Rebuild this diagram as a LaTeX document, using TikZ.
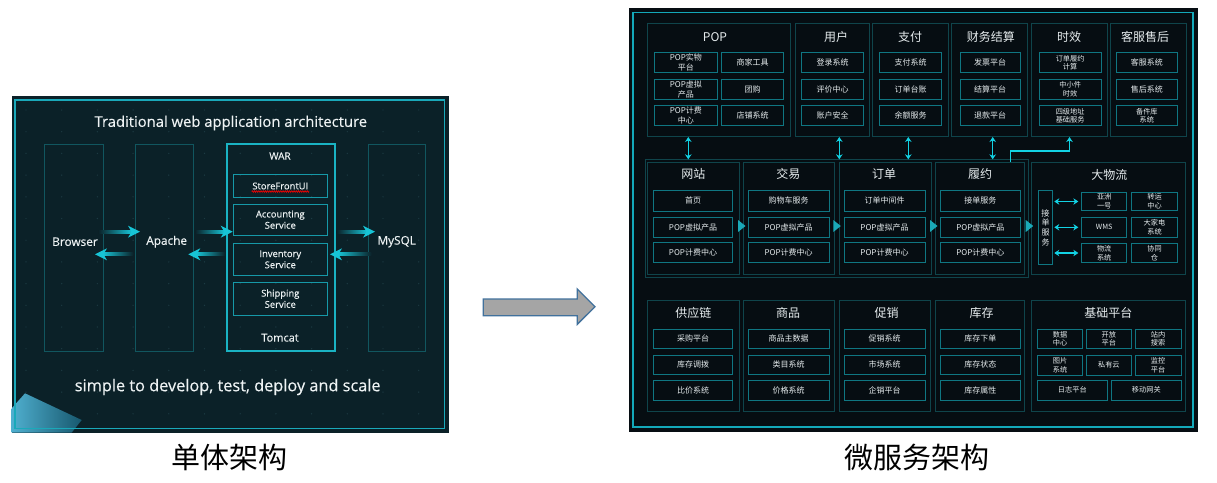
\documentclass[tikz,border=0pt]{standalone}
\usepackage{fontspec}
\setmainfont{Open Sans}[FakeBold=0.35]
\newfontfamily\cjk{Noto Sans CJK SC}
\usetikzlibrary{calc,arrows.meta,decorations.pathmorphing}
\definecolor{lbg}{HTML}{0B2128}
\definecolor{ldot}{HTML}{1C3A42}
\definecolor{lframe}{HTML}{1AA9BA}
\definecolor{lcol}{HTML}{11565F}
\definecolor{lwar}{HTML}{1AB3C3}
\definecolor{lsvc}{HTML}{1699A8}
\definecolor{ltxt}{HTML}{EEF3F4}
\definecolor{acyan}{HTML}{17C4D6}
\definecolor{cornA}{HTML}{4FAFCF}
\definecolor{cornB}{HTML}{17586E}
\definecolor{rbg}{HTML}{060D12}
\definecolor{rframe}{HTML}{13A8B9}
\definecolor{rgrp}{HTML}{0F444B}
\definecolor{rbox}{HTML}{0F7682}
\definecolor{rtxt}{HTML}{E6ECEE}
\definecolor{rcyan}{HTML}{12D2E4}
\definecolor{rtri}{HTML}{1AA9B8}
\definecolor{gfill}{HTML}{A5A5A5}
\definecolor{gline}{HTML}{41719C}
\newcommand\mkbox[7]{\node[#2,anchor=north west,minimum width={(#5-#3)*1pt},minimum height={(#6-#4)*1pt}] (#1) at (#3,#4) {#7};}
\newcommand\arrR[2]{%
  \shade[left color=lbg,right color=acyan] ($(#1)+(0,-1.4)$) rectangle ($(#2)+(-8,1.4)$);
  \fill[acyan] ($(#2)+(-12,-6)$) -- (#2) -- ($(#2)+(-12,6)$) -- ($(#2)+(-8.5,0)$) -- cycle;}
\newcommand\arrL[2]{%
  \shade[left color=acyan,right color=lbg] ($(#2)+(8,-1.4)$) rectangle ($(#1)+(0,1.4)$);
  \fill[acyan] ($(#2)+(12,-6)$) -- (#2) -- ($(#2)+(12,6)$) -- ($(#2)+(8.5,0)$) -- cycle;}
\newcommand\tri[1]{\fill[rtri] ($(#1)+(-1,-6)$) -- ($(#1)+(6.5,0)$) -- ($(#1)+(-1,6)$) -- cycle;}
\begin{document}
\begin{tikzpicture}[x=1pt,y=-1pt,
  colbox/.style={draw=lcol,line width=0.8pt,inner sep=0pt,outer sep=0pt},
  warbox/.style={draw=lwar,line width=1.1pt,inner sep=0pt,outer sep=0pt},
  svcbox/.style={draw=lsvc,line width=1pt,inner sep=0pt,outer sep=0pt,text=ltxt,align=center,font=\fontsize{9.4}{11.2}\selectfont},
  lname/.style={text=ltxt,inner sep=0pt,font=\fontsize{11.8}{14}\selectfont},
  grp/.style={draw=rgrp,line width=0.9pt,inner sep=0pt,outer sep=0pt},
  ibox/.style={draw=rbox,line width=0.9pt,inner sep=0pt,outer sep=0pt,text=rtxt,align=center,font=\cjk\fontsize{8}{9.6}\selectfont},
  sbox/.style={ibox,font=\cjk\fontsize{7.2}{8.6}\selectfont},
  gtitle/.style={text=rtxt,inner sep=0pt,font=\cjk\fontsize{12}{14}\selectfont},
  dbl/.style={draw=rcyan,line width=1.1pt,{Stealth[length=5pt,width=6.5pt]}-{Stealth[length=5pt,width=6.5pt]}},
  conn/.style={draw=rcyan,line width=1.1pt},
  caption/.style={text=black,inner sep=0pt,font=\cjk\fontsize{29}{32}\selectfont}]
\useasboundingbox (0,0) rectangle (1217,482);
\fill[white] (0,0) rectangle (1217,482);
% ---------------- left panel ----------------
\fill[lbg] (12,96) rectangle (449,433);
\foreach \i in {0,...,11}{\foreach \j in {0,...,14}{\fill[ldot] ({26+\i*35.7},{110+\j*21.7}) circle (0.7);}}
\shade[left color=cornA,right color=cornB]
  (11.7,408.3) -- (25,393.3) -- (81.7,420) -- (71.7,432.5) -- (11.7,432.5) -- cycle;
\draw[lframe,line width=1.2pt] (15,100) rectangle (444.3,428.3);
\node[text=ltxt,inner sep=0pt,font=\fontsize{14.8}{17}\selectfont] (ltitle) at (230.8,123) {Traditional web application architecture};
\mkbox{browser}{colbox}{44.3}{144}{103.3}{351}{}
\mkbox{apache}{colbox}{135.3}{144}{193.7}{351}{}
\mkbox{war}{warbox}{227}{144}{335}{351}{}
\mkbox{mysql}{colbox}{368.3}{144}{425.7}{351}{}
\node[lname] (browserlbl) at (75,241.7) {Browser};
\node[lname] (apachelbl) at (166.7,241.7) {Apache};
\node[lname] (mysqllbl) at (396.7,241.7) {MySQL};
\node[text=ltxt,inner sep=0pt,font=\fontsize{10}{12}\selectfont] (warlbl) at (280,156) {WAR};
\node[text=ltxt,inner sep=0pt,font=\fontsize{11}{13}\selectfont] (tomcat) at (280,337.7) {Tomcat};
\mkbox{sf}{svcbox}{233.3}{174.3}{327.3}{197.7}{StoreFrontUI}
\mkbox{acc}{svcbox}{233.3}{204}{327.3}{235.3}{Accounting\\Service}
\mkbox{inv}{svcbox}{233.3}{243.3}{327.3}{275.3}{Inventory\\Service}
\mkbox{shp}{svcbox}{233.3}{282}{327.3}{315.3}{Shipping\\Service}
\draw[red,line width=0.6pt,decorate,decoration={zigzag,amplitude=0.8pt,segment length=2.2pt}]
  ($(sf.south west)+(18.4,-6.2)$) -- ($(sf.south west)+(75.7,-6.2)$);
\node[text=ltxt,inner sep=0pt,font=\fontsize{16.3}{19}\selectfont] (lfoot) at (227.7,387) {simple to develop, test, deploy and scale};
% arrows
\coordinate (t1) at ($(browser.east)+(-5,-15.8)$);  \coordinate (h1) at ($(apache.west)+(4.7,-15.8)$);
\coordinate (t2) at ($(apache.west)+(-2,6.8)$);     \coordinate (h2) at ($(browser.east)+(-8.3,6.8)$);
\coordinate (t3) at ($(apache.east)+(1.3,-15.8)$);  \coordinate (h3) at ($(war.west)+(5.7,-15.8)$);
\coordinate (t4) at ($(war.west)+(-2,6.8)$);        \coordinate (h4) at ($(apache.east)+(-5.4,6.8)$);
\coordinate (t5) at ($(war.east)+(1.7,-15.8)$);     \coordinate (h5) at ($(mysql.west)+(6.7,-15.8)$);
\coordinate (t6) at ($(mysql.west)+(3.4,6.8)$);     \coordinate (h6) at ($(war.east)+(-5,6.8)$);
\arrR{t1}{h1} \arrL{t2}{h2} \arrR{t3}{h3} \arrL{t4}{h4} \arrR{t5}{h5} \arrL{t6}{h6}
\node[caption] (cap1) at (229.2,457.5) {单体架构};
% ---------------- big arrow ----------------
\filldraw[fill=gfill,draw=gline,line width=1.3pt,line join=miter]
  (483.3,299) -- (577.3,299) -- (577.3,289) -- (595,306.7) -- (577.3,324.3) -- (577.3,315.7) -- (483.3,315.7) -- cycle;
% ---------------- right panel ----------------
\fill[rbg] (629,8) rectangle (1198,432);
\draw[rframe,line width=1.3pt] (633,12.5) rectangle (1193,427);
% row 1
\mkbox{pop}{grp}{647.3}{23.3}{790.7}{136}{}
\mkbox{yh}{grp}{795}{23.3}{869.3}{136}{}
\mkbox{zf}{grp}{872.7}{23.3}{948.3}{136}{}
\mkbox{cw}{grp}{951.7}{23.3}{1027}{136}{}
\mkbox{sx}{grp}{1031.7}{23.3}{1107.3}{136}{}
\mkbox{kf}{grp}{1110.7}{23.3}{1186}{136}{}
\node[gtitle] (popt) at (715,37.3) {POP};
\node[gtitle] (yht) at (836,37.3) {用户};
\node[gtitle] (zft) at (910,37.3) {支付};
\node[gtitle] (cwt) at (990.8,37.3) {财务结算};
\node[gtitle] (sxt) at (1069,37.3) {时效};
\node[gtitle] (kft) at (1145,37.3) {客服售后};
\mkbox{p1}{ibox}{654.3}{52.7}{717.3}{72.7}{POP实物\\平台}
\mkbox{p2}{ibox}{721.7}{52.7}{783.3}{72.7}{商家工具}
\mkbox{p3}{ibox}{654.3}{79.3}{717.3}{99.3}{POP虚拟\\产品}
\mkbox{p4}{ibox}{721.7}{79.3}{783.3}{99.3}{团购}
\mkbox{p5}{ibox}{654.3}{105.7}{717.3}{125.7}{POP计费\\中心}
\mkbox{p6}{ibox}{721.7}{105.7}{783.3}{125.7}{店铺系统}
\mkbox{u1}{ibox}{801.7}{52.7}{863.3}{72.7}{登录系统}
\mkbox{u2}{ibox}{801.7}{79.3}{863.3}{99.3}{评价中心}
\mkbox{u3}{ibox}{801.7}{105.7}{863.3}{125.7}{账户安全}
\mkbox{z1}{ibox}{879.3}{52.7}{941.7}{72.7}{支付系统}
\mkbox{z2}{ibox}{879.3}{79.3}{941.7}{99.3}{订单台账}
\mkbox{z3}{ibox}{879.3}{105.7}{941.7}{125.7}{余额服务}
\mkbox{c1}{ibox}{960}{52.7}{1020}{72.7}{发票平台}
\mkbox{c2}{ibox}{960}{79.3}{1020}{99.3}{结算平台}
\mkbox{c3}{ibox}{960}{105.7}{1020}{125.7}{退款平台}
\mkbox{s1}{sbox}{1039.3}{52.7}{1101}{72.7}{订单履约\\计算}
\mkbox{s2}{sbox}{1039.3}{79.3}{1101}{99.3}{中小件\\时效}
\mkbox{s3}{sbox}{1039.3}{105.7}{1101}{125.7}{四级地址\\基础服务}
\mkbox{k1}{ibox}{1116}{52.7}{1177.7}{72.7}{客服系统}
\mkbox{k2}{ibox}{1116}{79.3}{1177.7}{99.3}{售后系统}
\mkbox{k3}{sbox}{1116}{105.7}{1177.7}{125.7}{备件库\\系统}
% row 2
\draw[rgrp,line width=0.8pt] (645.5,159.5) rectangle (1028.7,277.7);
\mkbox{wz}{grp}{647.3}{162.3}{739}{274.3}{}
\mkbox{jy}{grp}{743.3}{162.3}{834.3}{274.3}{}
\mkbox{dd}{grp}{839.3}{162.3}{931}{274.3}{}
\mkbox{lv}{grp}{935}{162.3}{1024.5}{274.3}{}
\mkbox{dwl}{grp}{1031.7}{162.3}{1185.7}{274.3}{}
\node[gtitle] (wzt) at (693.3,174.3) {网站};
\node[gtitle] (jyt) at (788.3,174.3) {交易};
\node[gtitle] (ddt) at (884,174.3) {订单};
\node[gtitle] (lvt) at (980,174.3) {履约};
\node[gtitle] (dwlt) at (1109.3,175) {大物流};
\mkbox{w1}{ibox}{653.3}{190.7}{732.7}{211}{首页}
\mkbox{w2}{ibox}{653.3}{217.3}{732.7}{237.3}{POP虚拟产品}
\mkbox{w3}{ibox}{653.3}{242.3}{732.7}{262.3}{POP计费中心}
\mkbox{j1}{ibox}{748.3}{190.7}{829}{211}{购物车服务}
\mkbox{j2}{ibox}{748.3}{217.3}{829}{237.3}{POP虚拟产品}
\mkbox{j3}{ibox}{748.3}{242.3}{829}{262.3}{POP计费中心}
\mkbox{o1}{ibox}{844}{190.7}{925}{211}{订单中间件}
\mkbox{o2}{ibox}{844}{217.3}{925}{237.3}{POP虚拟产品}
\mkbox{o3}{ibox}{844}{242.3}{925}{262.3}{POP计费中心}
\mkbox{l1}{ibox}{940}{190.7}{1020.7}{211}{接单服务}
\mkbox{l2}{ibox}{940}{217.3}{1020.7}{237.3}{POP虚拟产品}
\mkbox{l3}{ibox}{940}{242.3}{1020.7}{262.3}{POP计费中心}
\mkbox{js}{ibox}{1038.3}{190.7}{1052.7}{264.3}{\fontsize{8.2}{12.3}\selectfont 接\\单\\服\\务}
\mkbox{d1}{sbox}{1081.7}{192.3}{1126.7}{210.7}{亚洲\\一号}
\mkbox{d2}{sbox}{1131.7}{192.3}{1177.3}{210.7}{转运\\中心}
\mkbox{d3}{sbox}{1081.7}{217.3}{1126.7}{237.3}{WMS}
\mkbox{d4}{sbox}{1131.7}{217.3}{1177.3}{237.3}{大家电\\系统}
\mkbox{d5}{sbox}{1081.7}{243.3}{1126.7}{262.7}{物流\\系统}
\mkbox{d6}{sbox}{1131.7}{243.3}{1177.3}{262.7}{协同\\仓}
\coordinate (g1) at ($(wz.east)+(0,7.7)$);
\coordinate (g2) at ($(jy.east)+(0,7.7)$);
\coordinate (g3) at ($(dd.east)+(0,7.7)$);
\coordinate (g4) at ($(lv.east)+(2.2,7.7)$);
\tri{g1} \tri{g2} \tri{g3} \tri{g4}
\draw[dbl] ($(js.east |- d1.west)+(1.6,0)$) -- ($(d1.west)+(-3.4,0)$);
\draw[dbl] ($(js.east |- d3.west)+(1.6,0)$) -- ($(d3.west)+(-3.4,0)$);
\draw[dbl] ($(js.east |- d5.west)+(1.6,0)$) -- ($(d5.west)+(-3.4,0)$);
% connectors row1 <-> row2
\coordinate (a1) at ($(pop.south)+(-30.7,1)$); \coordinate (b1) at ($(a1 |- wz.north)+(0,-3)$);
\coordinate (a2) at ($(yh.south)+(7.15,1)$);   \coordinate (b2) at ($(a2 |- dd.north)+(0,-3)$);
\coordinate (a3) at ($(zf.south)+(-2.2,1)$);   \coordinate (b3) at ($(a3 |- dd.north)+(0,-3)$);
\coordinate (a4) at ($(cw.south)+(3.35,1)$);   \coordinate (b4) at ($(a4 |- lv.north)+(0,-3)$);
\draw[dbl] (a1) -- (b1);
\draw[dbl] (a2) -- (b2);
\draw[dbl] (a3) -- (b3);
\draw[dbl] (a4) -- (b4);
\draw[conn,-{Stealth[length=5pt,width=6.5pt]}] ($(lv.north)+(30.5,-0.5)$) |- ($(sx.south)+(0,15)$) -- ($(sx.south)+(0,1)$);
% row 3
\mkbox{gy}{grp}{647.3}{300}{739}{411.7}{}
\mkbox{sp}{grp}{743.3}{300}{834.3}{411.7}{}
\mkbox{cx}{grp}{839.3}{300}{930.7}{411.7}{}
\mkbox{kc}{grp}{935}{300}{1024.5}{411.7}{}
\mkbox{jc}{grp}{1031.7}{300}{1185.7}{411.7}{}
\node[gtitle] (gyt) at (693.3,313.3) {供应链};
\node[gtitle] (spt) at (788,313.3) {商品};
\node[gtitle] (cxt) at (886.7,313.3) {促销};
\node[gtitle] (kct) at (981.7,313.3) {库存};
\node[gtitle] (jct) at (1108.3,313.3) {基础平台};
\mkbox{y1}{ibox}{653.3}{329}{732.7}{348.3}{采购平台}
\mkbox{y2}{ibox}{653.3}{355}{732.7}{374.3}{库存调拨}
\mkbox{y3}{ibox}{653.3}{380}{732.7}{400}{比价系统}
\mkbox{q1}{ibox}{748.3}{329}{829}{348.3}{商品主数据}
\mkbox{q2}{ibox}{748.3}{355}{829}{374.3}{类目系统}
\mkbox{q3}{ibox}{748.3}{380}{829}{400}{价格系统}
\mkbox{x1}{ibox}{844}{329}{925}{348.3}{促销系统}
\mkbox{x2}{ibox}{844}{355}{925}{374.3}{市场系统}
\mkbox{x3}{ibox}{844}{380}{925}{400}{企销平台}
\mkbox{m1}{ibox}{940}{329}{1020.7}{348.3}{库存下单}
\mkbox{m2}{ibox}{940}{355}{1020.7}{374.3}{库存状态}
\mkbox{m3}{ibox}{940}{380}{1020.7}{400}{库存属性}
\mkbox{f1}{sbox}{1037.3}{329}{1082.7}{348.3}{数据\\中心}
\mkbox{f2}{sbox}{1086}{329}{1131.7}{348.3}{开放\\平台}
\mkbox{f3}{sbox}{1135}{329}{1181}{348.3}{站内\\搜索}
\mkbox{f4}{sbox}{1037.3}{355}{1082.7}{375}{图片\\系统}
\mkbox{f5}{sbox}{1086}{355}{1131.7}{375}{私有云}
\mkbox{f6}{sbox}{1135}{355}{1181}{375}{监控\\平台}
\mkbox{f7}{sbox}{1037.3}{380}{1107.3}{400}{日志平台}
\mkbox{f8}{sbox}{1111.7}{380}{1181}{400}{移动网关}
\node[caption] (cap2) at (916.7,457.5) {微服务架构};
\end{tikzpicture}
\end{document}
